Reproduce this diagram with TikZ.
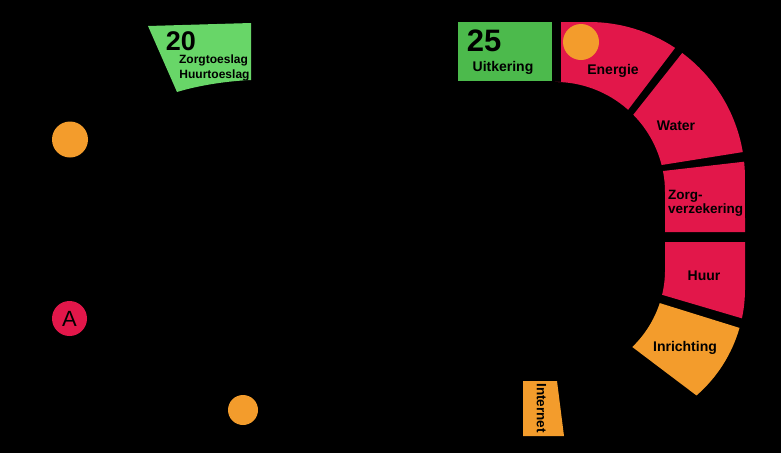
\documentclass[tikz,border=0pt]{standalone}
\usepackage{fontspec}
\setmainfont{Liberation Sans}
\definecolor{segred}{RGB}{226,23,74}
\definecolor{segorange}{RGB}{243,156,44}
\definecolor{greendark}{RGB}{76,186,76}
\definecolor{greenlight}{RGB}{104,214,104}
\begin{document}
\begin{tikzpicture}[x=1pt,y=-1pt,
  lbl/.style={font=\bfseries\fontsize{14}{16}\selectfont, text=black, inner sep=0pt, anchor=base},
  bignum/.style={font=\bfseries\fontsize{31}{33}\selectfont, text=black, inner sep=0pt, anchor=base},
  smalllbl/.style={font=\bfseries\fontsize{12}{14}\selectfont, text=black, inner sep=0pt, anchor=base},
  dot/.style={circle, fill=segorange, inner sep=0pt, minimum size=#1}]
\useasboundingbox (0,0) rectangle (781,453);
\fill[black] (0,0) rectangle (781,453);
% ring segments
\fill[segred] (561,22) -- (589,22) arc[start angle=-90,end angle=-56.5,radius=156]
  -- (628.1,109.8) arc[start angle=-48.3,end angle=-90,radius=110] -- (561,82) -- cycle;
\fill[segred] (682.2,53) arc[start angle=-53.3,end angle=-9.6,radius=156]
  -- (661.6,165) arc[start angle=-14.2,end angle=-44.6,radius=110] -- cycle;
\fill[segred] (744.1,161.7) arc[start angle=-6,end angle=0,radius=156]
  -- (745,232) -- (665,232) -- (665,192) arc[start angle=0,end angle=-11,radius=110] -- cycle;
\fill[segred] (665,242) -- (745,242) -- (745,289) arc[start angle=0,end angle=12,radius=141]
  -- (662.1,294.8) arc[start angle=13.4,end angle=0,radius=107] -- cycle;
\fill[segorange] (739.5,327.9) arc[start angle=16,end angle=49,radius=141]
  -- (632.3,347) arc[start angle=46,end angle=18,radius=107] -- cycle;
% green boxes
\fill[greenlight] (148,26) -- (251,23) -- (251,80) .. controls (228,81) and (200,85) .. (177,92) -- cycle;
\fill[greendark] (458,22) rectangle (552,81);
% internet piece
\fill[segorange] (523,381) -- (557,381) -- (564,436) -- (523,436) -- cycle;
% labels
\node[lbl] (energie) at (613,74) {Energie};
\node[lbl] (water) at (676,130) {Water};
\node[font=\bfseries\fontsize{13.5}{14}\selectfont, text=black, inner sep=0pt, anchor=west, align=left] (zorg) at (668,203.5) {Zorg-\\verzekering};
\node[lbl] (huur) at (704,280) {Huur};
\node[lbl] (inrichting) at (685,351.5) {Inrichting};
\node[lbl] (uitkering) at (503,71.5) {Uitkering};
\node[bignum] (n25) at (484,51.7) {25};
\node[font=\bfseries\fontsize{27}{29}\selectfont, text=black, inner sep=0pt, anchor=base] (n20) at (181,50) {20};
\node[smalllbl] (zorgtoeslag) at (213.5,63.3) {Zorgtoeslag};
\node[smalllbl] (huurtoeslag) at (214.5,78.3) {Huurtoeslag};
\node[font=\bfseries\fontsize{13.5}{15}\selectfont, text=black, inner sep=0pt, rotate=-90] (internet) at (541.5,408) {Internet};
% circles
\node[dot=36pt] (c1) at (70,139.5) {};
\node[dot=36pt] (c2) at (581,42) {};
\node[dot=30pt] (c3) at (243,410) {};
\node[circle, fill=segred, inner sep=0pt, minimum size=35pt, font=\fontsize{22}{24}\selectfont, text=black] (ca) at (69.5,318.5) {A};
\end{tikzpicture}
\end{document}
